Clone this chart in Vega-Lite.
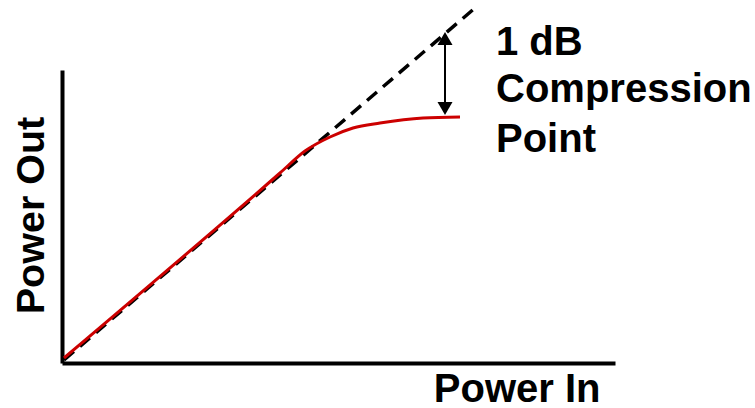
{
  "$schema": "https://vega.github.io/schema/vega-lite/v6.json",
  "width": 553,
  "height": 293,
  "autosize": {"type": "none"},
  "padding": {"left": 62, "top": 70, "right": 140, "bottom": 45},
  "background": "white",
  "config": {"view": {"stroke": null}},
  "datasets": {
    "ideal": [
      {"x": 2, "y": 3},
      {"x": 413, "y": 355}
    ],
    "actual": [
      {"x": 2, "y": 5},
      {"x": 218, "y": 190},
      {"x": 243, "y": 212},
      {"x": 268, "y": 226},
      {"x": 291, "y": 235},
      {"x": 318, "y": 240},
      {"x": 361, "y": 245},
      {"x": 398, "y": 246}
    ],
    "arrow": [{"x": 383, "y": 328, "y2": 251}],
    "heads": [
      {"x": 383, "y": 324.5, "dir": "up"},
      {"x": 383, "y": 254.5, "dir": "down"}
    ],
    "labels": [
      {"x": 434, "y": 308, "label": "1 dB"},
      {"x": 434, "y": 261, "label": "Compression"},
      {"x": 434, "y": 211, "label": "Point"}
    ]
  },
  "layer": [
    {
      "data": {"name": "ideal"},
      "mark": {"type": "line", "color": "black", "strokeWidth": 3.5, "strokeDash": [13, 8]},
      "encoding": {
        "x": {
          "field": "x", "type": "quantitative",
          "scale": {"domain": [0, 553], "nice": false, "zero": false},
          "axis": {
            "title": "Power In", "labels": false, "ticks": false, "grid": false,
            "domainColor": "black", "domainWidth": 4,
            "titleFont": "Liberation Sans", "titleFontSize": 40, "titleFontWeight": "bold", "titleColor": "black",
            "titleX": 538, "titleY": 38, "titleAlign": "right", "titleBaseline": "alphabetic"
          }
        },
        "y": {
          "field": "y", "type": "quantitative",
          "scale": {"domain": [0, 293], "nice": false, "zero": false},
          "axis": {
            "title": "Power Out", "labels": false, "ticks": false, "grid": false,
            "domainColor": "black", "domainWidth": 4,
            "titleFont": "Liberation Sans", "titleFontSize": 39.5, "titleFontWeight": "bold", "titleColor": "black",
            "titleX": -19, "titleY": 145, "titleAngle": -90, "titleAlign": "center", "titleBaseline": "alphabetic"
          }
        }
      }
    },
    {
      "data": {"name": "actual"},
      "mark": {"type": "line", "color": "#cc0000", "strokeWidth": 3, "interpolate": "monotone"},
      "encoding": {
        "x": {"field": "x", "type": "quantitative"},
        "y": {"field": "y", "type": "quantitative"}
      }
    },
    {
      "data": {"name": "arrow"},
      "mark": {"type": "rule", "color": "black", "strokeWidth": 2},
      "encoding": {
        "x": {"field": "x", "type": "quantitative"},
        "y": {"field": "y", "type": "quantitative"},
        "y2": {"field": "y2"}
      }
    },
    {
      "data": {"name": "heads"},
      "mark": {"type": "point", "filled": true, "color": "black", "opacity": 1, "size": 225},
      "encoding": {
        "x": {"field": "x", "type": "quantitative"},
        "y": {"field": "y", "type": "quantitative"},
        "shape": {
          "field": "dir", "type": "nominal",
          "scale": {"domain": ["up", "down"], "range": ["triangle-up", "triangle-down"]},
          "legend": null
        }
      }
    },
    {
      "data": {"name": "labels"},
      "mark": {"type": "text", "align": "left", "baseline": "alphabetic", "font": "Liberation Sans", "fontSize": 40, "fontWeight": "bold", "color": "black"},
      "encoding": {
        "x": {"field": "x", "type": "quantitative"},
        "y": {"field": "y", "type": "quantitative"},
        "text": {"field": "label", "type": "nominal"}
      }
    }
  ]
}
